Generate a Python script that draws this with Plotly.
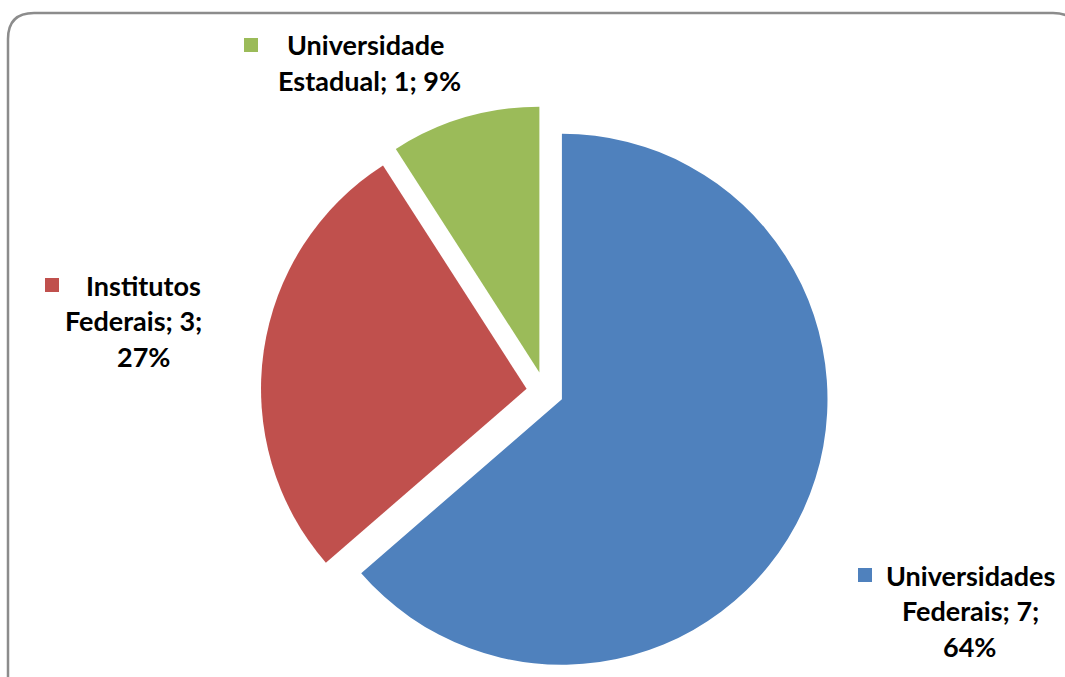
import plotly.graph_objects as go

# ---- data ----
categories = ["Universidades Federais", "Institutos Federais", "Universidade Estadual"]
values = [7, 3, 1]
percents = [64, 27, 9]
colors = ["#4F81BD", "#C0504D", "#9BBB59"]
# label lines as printed on the chart
label_lines = [
    ["Universidades", "Federais; 7;", "64%"],
    ["Institutos", "Federais; 3;", "27%"],
    ["Universidade", "Estadual; 1; 9%"],
]

W, H = 1065, 677


def px(x):
    return x / W


def py(y):
    return 1 - y / H


fig = go.Figure()

cx, cy = 545, 391.5
half = H - cy  # distance to the bottom edge
fig.add_trace(go.Pie(
    labels=categories,
    values=values,
    marker=dict(colors=colors, line=dict(width=0)),
    sort=False,
    direction="clockwise",
    rotation=0,
    pull=[0.07, 0.07, 0.075],
    textinfo="none",
    hoverinfo="skip",
    showlegend=False,
    domain=dict(x=[px(cx - half), px(cx + half)], y=[py(cy + half), py(cy - half)]),
))

# label layout (pixel centres of each line and legend-key square)
label_pos = [
    dict(key=(865, 575), lines=[(970, 575), (970, 610), (969, 646)]),
    dict(key=(52, 285), lines=[(144, 285), (133, 320), (144, 356)]),
    dict(key=(251, 45), lines=[(365, 45), (369, 80)]),
]

FONT = "Lato"
annotations = []
shapes = []
for i, pos in enumerate(label_pos):
    kx, ky = pos["key"]
    s = 7
    shapes.append(dict(type="rect", xref="paper", yref="paper",
                       x0=px(kx - s), x1=px(kx + s), y0=py(ky + s), y1=py(ky - s),
                       fillcolor=colors[i], line=dict(width=0)))
    for text, (lx, ly) in zip(label_lines[i], pos["lines"]):
        annotations.append(dict(x=px(lx), y=py(ly), xref="paper", yref="paper",
                                text="<b>" + text + "</b>", showarrow=False,
                                xanchor="center", yanchor="middle",
                                font=dict(family=FONT, size=27, color="#000000")))

# rounded chart border (extends past right and bottom edges)
x0, y0, x1, r = 8, 13, 1079, 26
yb = 700
path = (f"M {px(x0)},{py(yb)} L {px(x0)},{py(y0 + r)} "
        f"Q {px(x0)},{py(y0)} {px(x0 + r)},{py(y0)} "
        f"L {px(x1 - r)},{py(y0)} Q {px(x1)},{py(y0)} {px(x1)},{py(y0 + r)} "
        f"L {px(x1)},{py(yb)}")
shapes.append(dict(type="path", xref="paper", yref="paper", path=path,
                   line=dict(color="#8C8C8C", width=2.5)))

fig.update_layout(
    width=W, height=H,
    margin=dict(l=0, r=0, t=0, b=0),
    paper_bgcolor="white",
    plot_bgcolor="white",
    annotations=annotations,
    shapes=shapes,
)

fig.write_html("out.html")
